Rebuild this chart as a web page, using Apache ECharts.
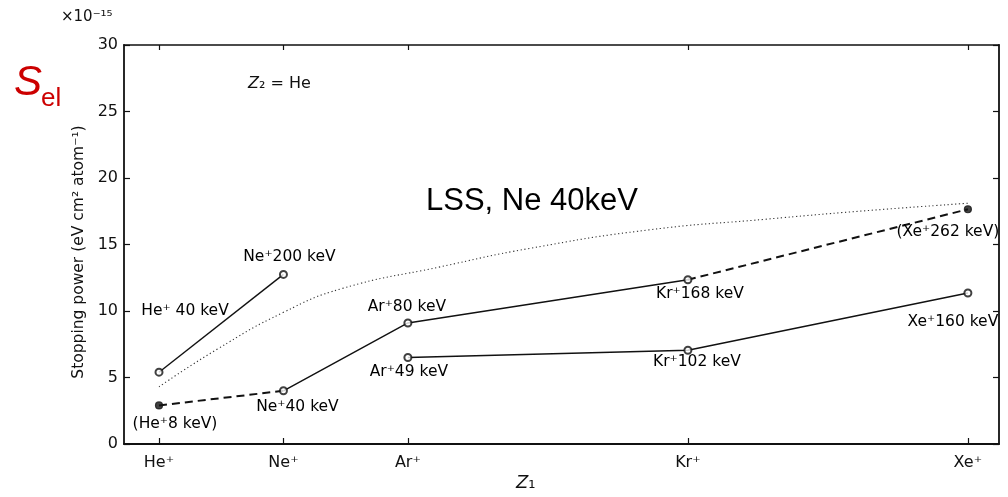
<!DOCTYPE html>
<html>
<head>
<meta charset="utf-8">
<script src="https://cdn.jsdelivr.net/npm/echarts@6/dist/echarts.min.js"></script>
<style>
  html, body { margin: 0; padding: 0; background: #fff; }
  #chart { width: 1008px; height: 497px; }
</style>
</head>
<body>
<div id="chart"></div>
<script>
// Projectile atomic numbers and names on the Z1 axis
const ionZ = [2, 10, 18, 36, 54];
const ionNames = ['He⁺', 'Ne⁺', 'Ar⁺', 'Kr⁺', 'Xe⁺'];

// Y axis ticks (×10⁻¹⁵ eV cm² atom⁻¹)
const yTicks = [0, 5, 10, 15, 20, 25, 30];

// He⁺ 40 keV → Ne⁺ 200 keV
const fastZ = [2, 10];
const fastS = [5.4, 12.75];
const fastLabels = ['He⁺ 40 keV', 'Ne⁺200 keV'];

// Upper chain: He⁺8 → Ne⁺40 → Ar⁺80 → Kr⁺168 → Xe⁺262 keV
const upperZ = [2, 10, 18, 36, 54];
const upperS = [2.9, 4.0, 9.1, 12.35, 17.65];
const upperLabels = ['(He⁺8 keV)', 'Ne⁺40 keV', 'Ar⁺80 keV', 'Kr⁺168 keV', '(Xe⁺262 keV)'];
const upperFilled = [true, false, false, false, true];

// Lower chain: Ar⁺49 → Kr⁺102 → Xe⁺160 keV
const lowerZ = [18, 36, 54];
const lowerS = [6.5, 7.05, 11.35];
const lowerLabels = ['Ar⁺49 keV', 'Kr⁺102 keV', 'Xe⁺160 keV'];

// LSS theory curve
const lssZ = [2, 5.7, 10, 13.8, 20, 25.8, 33.5, 41, 47, 54];
const lssS = [4.3, 7.1, 9.9, 11.7, 13.3, 14.7, 16.1, 16.9, 17.5, 18.1];

const INK = '#111';
const FONT = 'DejaVu Sans';
const LABEL_SIZE = 15.5;

const pairs = (xs, ys) => xs.map((x, i) => [x, ys[i]]);

// Label centre offsets (pixels from the marker centre)
const fastOffsets = [[26, -60], [6, -16]];
const upperOffsets = [[16, 19], [14, 17], [-1, -15], [12, 15], [-20, 23]];
const lowerOffsets = [[1, 15], [9, 13], [-15, 30]];

// 'top' anchors the label just above the marker; shift so the offset is from the centre
const MARKER = 7;
function labelledPoints(xs, ys, names, offsets, filled) {
  return xs.map((x, i) => ({
    value: [x, ys[i]],
    name: names[i],
    symbol: filled && filled[i] ? 'circle' : 'emptyCircle',
    label: { offset: [offsets[i][0], offsets[i][1] + MARKER / 2] }
  }));
}

const lineBase = { type: 'line', showSymbol: false, symbol: 'none', silent: true, z: 2 };
const solid = { color: INK, width: 1.4, type: 'solid' };
const dashed = { color: INK, width: 2, type: [8, 5] };

const scatterBase = {
  type: 'scatter',
  symbolSize: MARKER,
  z: 5,
  silent: true,
  itemStyle: { color: INK, borderColor: INK, borderWidth: 1.2 },
  label: {
    show: true,
    position: 'top',
    distance: 0,
    align: 'center',
    verticalAlign: 'middle',
    formatter: p => p.name,
    color: '#000',
    opacity: 1,
    fontFamily: FONT,
    fontSize: LABEL_SIZE
  }
};

const chart = echarts.init(document.getElementById('chart'), null, { renderer: 'canvas' });

chart.setOption({
  backgroundColor: '#fff',
  animation: false,
  grid: { left: 124, top: 45, right: 9, bottom: 53 },
  xAxis: [
    {
      type: 'value', min: -0.25, max: 56, position: 'bottom',
      axisLine: { show: true, onZero: false, lineStyle: { color: INK, width: 1.8 } },
      axisTick: { show: true, inside: true, length: 6, customValues: ionZ, lineStyle: { color: INK, width: 1.2 } },
      axisLabel: {
        customValues: ionZ, margin: 11, color: INK, fontFamily: FONT, fontSize: 16,
        formatter: v => ionNames[ionZ.indexOf(v)] || ''
      },
      splitLine: { show: false }
    },
    {
      type: 'value', min: -0.25, max: 56, position: 'top',
      axisLine: { show: true, onZero: false, lineStyle: { color: INK, width: 1.6 } },
      axisTick: { show: true, inside: true, length: 5, customValues: ionZ, lineStyle: { color: INK, width: 1.2 } },
      axisLabel: { show: false },
      splitLine: { show: false }
    }
  ],
  yAxis: [
    {
      type: 'value', min: 0, max: 30, interval: 5, position: 'left',
      axisLine: { show: true, onZero: false, lineStyle: { color: INK, width: 1.8 } },
      axisTick: { show: true, inside: true, length: 6, lineStyle: { color: INK, width: 1.2 } },
      axisLabel: { margin: 6, color: INK, fontFamily: FONT, fontSize: 16,
        formatter: v => yTicks.includes(v) ? String(v) : '' },
      splitLine: { show: false }
    },
    {
      type: 'value', min: 0, max: 30, interval: 5, position: 'right',
      axisLine: { show: true, onZero: false, lineStyle: { color: INK, width: 1.8 } },
      axisTick: { show: true, inside: true, length: 6, lineStyle: { color: INK, width: 1.2 } },
      axisLabel: { show: false },
      splitLine: { show: false }
    }
  ],
  series: [
    // LSS theory (dotted)
    Object.assign({}, lineBase, {
      data: pairs(lssZ, lssS), smooth: 0.5,
      lineStyle: { color: '#333', width: 1.1, type: [1.2, 2.6] }
    }),
    // He⁺40 – Ne⁺200
    Object.assign({}, lineBase, { data: pairs(fastZ, fastS), lineStyle: solid }),
    // Upper chain segments
    Object.assign({}, lineBase, { data: pairs(upperZ.slice(0, 2), upperS.slice(0, 2)), lineStyle: dashed }),
    Object.assign({}, lineBase, { data: pairs(upperZ.slice(1, 4), upperS.slice(1, 4)), lineStyle: solid }),
    Object.assign({}, lineBase, { data: pairs(upperZ.slice(3, 5), upperS.slice(3, 5)), lineStyle: dashed }),
    // Lower chain
    Object.assign({}, lineBase, { data: pairs(lowerZ, lowerS), lineStyle: solid }),
    // Markers with energy labels
    Object.assign({}, scatterBase, { data: labelledPoints(fastZ, fastS, fastLabels, fastOffsets) }),
    Object.assign({}, scatterBase, { data: labelledPoints(upperZ, upperS, upperLabels, upperOffsets, upperFilled) }),
    Object.assign({}, scatterBase, { data: labelledPoints(lowerZ, lowerS, lowerLabels, lowerOffsets) })
  ],
  graphic: [
    // S_el symbol
    { type: 'text', left: 14, top: 62, style: { text: 'S', font: 'italic 42px "Liberation Sans"', fill: '#cc0000' } },
    { type: 'text', left: 41, top: 86, style: { text: 'el', font: '26px "Liberation Sans"', fill: '#cc0000' } },
    // Axis multiplier
    { type: 'text', left: 61, top: 10, style: { text: '×10⁻¹⁵', font: '15px "DejaVu Sans"', fill: INK } },
    // Y axis title
    { type: 'text', x: 79, y: 252, rotation: Math.PI / 2, style: {
        text: 'Stopping power (eV cm² atom⁻¹)', font: '15.5px "DejaVu Sans"', fill: INK,
        align: 'center', verticalAlign: 'middle'
      } },
    // Target annotation
    { type: 'text', left: 248, top: 76, style: {
        text: '{z|Z}{n|₂ = He}',
        rich: {
          z: { font: 'italic 16px "DejaVu Sans"', fill: INK },
          n: { font: '16px "DejaVu Sans"', fill: INK }
        }
      } },
    // Theory curve caption
    { type: 'text', left: 426, top: 186, style: { text: 'LSS, Ne 40keV', font: '31px "Liberation Sans"', fill: '#000' } },
    // X axis name
    { type: 'text', left: 516, top: 474, style: {
        text: '{z|Z}{n|₁}',
        rich: {
          z: { font: 'italic 18px "DejaVu Sans"', fill: INK },
          n: { font: '18px "DejaVu Sans"', fill: INK }
        }
      } }
  ]
});
</script>
</body>
</html>
